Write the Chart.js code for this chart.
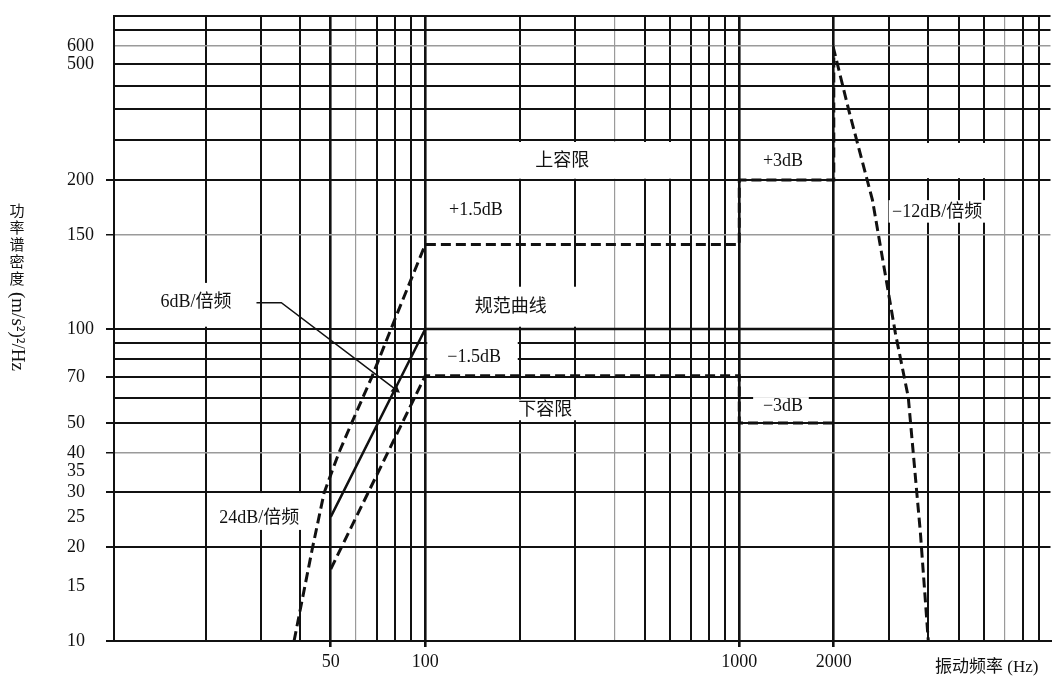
<!DOCTYPE html>
<html>
<head>
<meta charset="utf-8">
<script src="https://cdn.jsdelivr.net/npm/chart.js@4.4.0/dist/chart.umd.min.js"></script>
<style>
html, body { margin: 0; padding: 0; background: #fff; }
canvas { display: block; }
</style>
</head>
<body>
<canvas id="psd" width="1056" height="677"></canvas>
<script>
// frequency axis (Hz)
const freqGrid = [20,30,40,50,60,70,80,90,100,200,300,400,500,600,700,800,900,1000,2000,3000,4000,5000,6000,7000,8000,9000];
const freqLabels = [50,100,1000,2000];
const freqFaint = [60,400,7000];

// PSD axis ((m/s²)²/Hz)
const psdGrid = [10,15,20,25,30,35,40,50,60,70,80,90,100,150,200,275,350,420,500,600,700,800];
const psdLabels = [10,15,20,25,30,35,40,50,70,100,150,200,500,600];
const psdNoLine = [15,25,35];
const psdFaint = [40,150,600];

// spec curve 规范曲线
const specFreq = [50,100,2000];
const specPsd = [25,100,100];

// upper tolerance: +1.5dB, +3dB, then the -12dB/oct roll-off
const upperFreq = [38.2,43.6,47.6,53,58.3,67.5,80.4,100,1000,1000,2000,2000,2231,2656,3142,3453,3775,4000];
const upperPsd = [10,19.6,29.8,40,50,70,105,144,144,200,200,580,348,180,97,60.5,22.2,10];

// lower tolerance: -1.5dB, -3dB
const lowerFreq = [50,100,1000,1000,2000];
const lowerPsd = [17,70.8,70.8,50,50];

// leader from the "6dB/倍频" note to the spec slope
const leaderFreq = [29,34.8,80.4];
const leaderPsd = [112,112,64];

// notes: text centre (f, v) and white box [f1, f2, v1, v2]
const notes = [
  {text: '上容限', f: 273, v: 232, box: [101.5, 690, 202, 270]},
  {text: '+1.5dB', f: 145, v: 171, box: [101.5, 197, 153, 198]},
  {text: '规范曲线', f: 187, v: 110, box: [101.5, 385, 101, 120]},
  {text: '−1.5dB', f: 143, v: 81, box: [101.5, 197, 72, 98]},
  {text: '下容限', f: 241, v: 55, box: [101.5, 385, 51, 59.5]},
  {text: '+3dB', f: 1378, v: 232, box: [1015, 1970, 203, 268]},
  {text: '−3dB', f: 1378, v: 56.6, box: [1107, 1665, 52.6, 60.5]},
  {text: '', f: 0, v: 0, box: [3031, 6738, 203, 268]},
  {text: '−12dB/倍频', f: 4266, v: 169, box: [2990, 6263, 160, 180]},
  {text: '6dB/倍频', f: 18.6, v: 112, box: [13.3, 27.5, 101, 122]},
  {text: '24dB/倍频', f: 29.6, v: 24.8, box: [20.3, 40.2, 22.7, 29.8]}
];

function pts(xs, ys) {
  return xs.map((x, i) => ({x: x, y: ys[i]}));
}

// the printed PSD axis is log below 100 but stretched above it,
// so the scale bends through the labelled values
const yBends = [[10, 0], [100, 0.4992], [150, 0.6496], [200, 0.7376], [500, 0.9232], [600, 0.952], [800, 1]];
const LogScale = Chart.LogarithmicScale || Chart.registry.getScale('logarithmic');

class BentLogScale extends LogScale {
  getPixelForValue(value) {
    if (value === null || value === undefined || isNaN(value)) return NaN;
    let i = 1;
    while (i < yBends.length - 1 && value > yBends[i][0]) i++;
    const a = yBends[i - 1], b = yBends[i];
    const t = (Math.log10(value) - Math.log10(a[0])) / (Math.log10(b[0]) - Math.log10(a[0]));
    return this.getPixelForDecimal(a[1] + t * (b[1] - a[1]));
  }
  getValueForPixel(pixel) {
    const d = this.getDecimalForPixel(pixel);
    let i = 1;
    while (i < yBends.length - 1 && d > yBends[i][1]) i++;
    const a = yBends[i - 1], b = yBends[i];
    const t = (d - a[1]) / (b[1] - a[1]);
    return Math.pow(10, Math.log10(a[0]) + t * (Math.log10(b[0]) - Math.log10(a[0])));
  }
}
BentLogScale.id = 'bentLog';
BentLogScale.defaults = LogScale.defaults;
Chart.register(BentLogScale);

const serif = '"Liberation Serif", "Noto Sans CJK SC", serif';
const ink = '#111';

const notePlugin = {
  id: 'notes',
  beforeDatasetsDraw(chart) {
    const ctx = chart.ctx, x = chart.scales.x, y = chart.scales.y;
    ctx.save();
    ctx.fillStyle = '#fff';
    notes.forEach(n => {
      const l = x.getPixelForValue(n.box[0]), r = x.getPixelForValue(n.box[1]);
      const b = y.getPixelForValue(n.box[2]), t = y.getPixelForValue(n.box[3]);
      ctx.fillRect(l, t, r - l, b - t);
    });
    ctx.restore();
  },
  afterDatasetsDraw(chart) {
    const ctx = chart.ctx, x = chart.scales.x, y = chart.scales.y;
    ctx.save();
    ctx.fillStyle = ink;
    ctx.font = '18px ' + serif;
    ctx.textAlign = 'center';
    ctx.textBaseline = 'middle';
    notes.forEach(n => {
      if (n.text) ctx.fillText(n.text, x.getPixelForValue(n.f), y.getPixelForValue(n.v));
    });
    ctx.restore();
  },
  afterDraw(chart) {
    const ctx = chart.ctx;
    ctx.save();
    ctx.fillStyle = ink;
    ctx.textBaseline = 'middle';
    // x title
    ctx.font = '17px ' + serif;
    ctx.textAlign = 'left';
    ctx.fillText('振动频率 (Hz)', 935, 668);
    // y title, vertical
    ctx.font = '15px "Noto Sans CJK SC", sans-serif';
    ctx.textAlign = 'center';
    '功率谱密度'.split('').forEach((ch, i) => ctx.fillText(ch, 17, 210 + i * 17));
    ctx.translate(17, 292);
    ctx.rotate(Math.PI / 2);
    ctx.font = '19px ' + serif;
    ctx.textAlign = 'left';
    ctx.fillText('(m/s²)²/Hz', 0, 0);
    ctx.restore();
  }
};

const tickFont = {family: serif, size: 18};

new Chart(document.getElementById('psd'), {
  type: 'line',
  data: {
    datasets: [
      {data: pts(specFreq, specPsd), borderColor: ink, borderWidth: 2.5, pointRadius: 0},
      {data: pts(upperFreq, upperPsd), borderColor: ink, borderWidth: 3, borderDash: [10, 5], pointRadius: 0},
      {data: pts(lowerFreq, lowerPsd), borderColor: ink, borderWidth: 3, borderDash: [10, 5], pointRadius: 0},
      {data: pts(leaderFreq, leaderPsd), borderColor: ink, borderWidth: 1.5,
       pointRadius: [0, 0, 4], pointStyle: 'triangle', rotation: 127,
       pointBackgroundColor: ink, pointBorderColor: ink}
    ]
  },
  options: {
    responsive: false,
    animation: false,
    layout: {padding: {left: 67, top: 16, right: 0, bottom: 0}},
    plugins: {legend: {display: false}, tooltip: {enabled: false}},
    scales: {
      x: {
        type: 'logarithmic',
        bounds: 'data',
        min: 10.2,
        max: 9800,
        afterBuildTicks: s => { s.ticks = freqGrid.map(v => ({value: v})); },
        afterFit: s => { s.height = 36; },
        ticks: {
          autoSkip: false, maxRotation: 0, minRotation: 0, padding: 4,
          color: ink, font: tickFont,
          callback: v => freqLabels.includes(v) ? String(v) : ''
        },
        grid: {
          color: c => c.tick && freqFaint.includes(c.tick.value) ? '#9a9a9a' : ink,
          lineWidth: c => {
            if (!c.tick) return 2;
            if (freqFaint.includes(c.tick.value)) return 1.2;
            return freqLabels.includes(c.tick.value) ? 2.6 : 2;
          },
          tickLength: 6,
          tickColor: c => c.tick && freqLabels.includes(c.tick.value) ? ink : 'rgba(0,0,0,0)'
        },
        border: {display: true, color: ink, width: 2}
      },
      y: {
        type: 'bentLog',
        bounds: 'data',
        min: 10,
        max: 800,
        afterBuildTicks: s => { s.ticks = psdGrid.map(v => ({value: v})); },
        afterFit: s => { s.width = 47; },
        ticks: {
          autoSkip: false, crossAlign: 'far', padding: 4,
          color: ink, font: tickFont,
          callback: v => psdLabels.includes(v) ? String(v) : ''
        },
        grid: {
          color: c => {
            if (!c.tick) return ink;
            if (psdNoLine.includes(c.tick.value)) return 'rgba(0,0,0,0)';
            return psdFaint.includes(c.tick.value) ? '#9a9a9a' : ink;
          },
          lineWidth: c => c.tick && psdFaint.includes(c.tick.value) ? 1.5 : 2,
          tickLength: 8,
          tickColor: c => {
            if (!c.tick) return 'rgba(0,0,0,0)';
            const v = c.tick.value;
            return psdLabels.includes(v) && !psdNoLine.includes(v) && v < 500 ? ink : 'rgba(0,0,0,0)';
          }
        },
        border: {display: true, color: ink, width: 2}
      }
    }
  },
  plugins: [notePlugin]
});
</script>
</body>
</html>
